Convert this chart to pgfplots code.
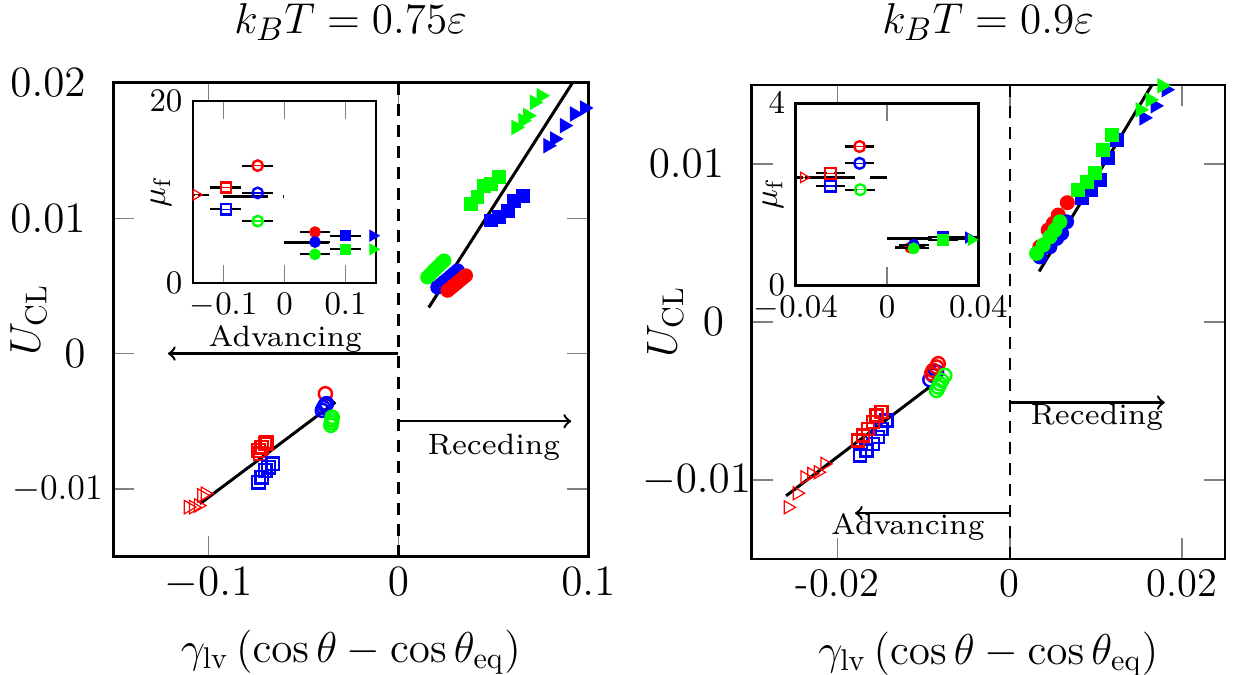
\documentclass[border=0pt]{standalone}
\usepackage{graphicx}
\usepackage{pgfplots}
\pgfplotsset{compat=1.18}
\definecolor{cred}{rgb}{1,0,0}
\definecolor{cblue}{rgb}{0,0,1}
\definecolor{cgreen}{rgb}{0,1,0}
\newcommand{\annot}[1]{\scalebox{1.4}{\fontsize{7}{8}\selectfont #1}}
\pgfplotsset{
  mainax/.style={scale only axis, axis line style={line width=0.9pt},
    tick style={gray, line width=0.4pt}, major tick length=7pt,
    tick label style={font=\fontsize{13.5}{16}\selectfont},
    label style={font=\fontsize{14.5}{17}\selectfont},
    scaled ticks=false, clip mode=individual,
    xlabel={$\gamma_{\mathrm{lv}}\left(\cos\theta-\cos\theta_{\mathrm{eq}}\right)$},
    ylabel={$U_{\mathrm{CL}}$},
    xlabel style={at={(axis description cs:0.5,0)}, anchor=center, yshift=-31.8pt}},
  insetax/.style={scale only axis, axis background/.style={fill=white},
    axis line style={line width=0.9pt},
    tick style={gray, line width=0.4pt}, major tick length=6pt,
    tick label style={font=\fontsize{10.5}{12}\selectfont},
    label style={font=\fontsize{11}{13}\selectfont},
    scaled ticks=false, clip mode=individual, ylabel={$\mu_{\mathrm{f}}$}},
  ao/.style={only marks, draw=#1, mark options={fill=white, line width=0.8pt}},
  rf/.style={only marks, draw=#1, fill=#1, mark options={line width=0.4pt}},
  fitline/.style={black, line width=1pt, no marks},
  zeroline/.style={black, line width=0.8pt, dash pattern=on 4pt off 3pt, no marks},
  mline/.style={black, line width=1pt, dash pattern=on 15pt off 5pt, no marks},
  ebx/.style={error bars/.cd, x dir=both, x explicit,
    error bar style={line width=0.5pt, double, double distance=1.6pt},
    error mark options={line width=0.7pt, mark size=1.9pt}},
}
\begin{document}
\begin{tikzpicture}
\useasboundingbox (0,0) rectangle (412.33pt,-224.67pt);
\node[font=\fontsize{15.5}{18}\selectfont] at (116.9pt,-7.3pt) {$k_BT=0.75\varepsilon$};
\node[font=\fontsize{15.5}{18}\selectfont] at (329.4pt,-7.3pt) {$k_BT=0.9\varepsilon$};

% ---------------- left main
\begin{axis}[mainax, at={(37.78pt,-27.57pt)}, anchor=north west,
  width=158.33pt, height=158pt,
  xmin=-0.15, xmax=0.1, ymin=-0.015, ymax=0.02,
  xtick={-0.1,0,0.1}, xticklabels={$-0.1$,$0$,$0.1$},
  ytick={-0.01,0,0.01,0.02},
  yticklabels={{\fontsize{12.2}{14}\selectfont$-0.01$\hspace*{-5.7pt}},{$0$},{$0.01$},{$0.02$}},
  yticklabel style={xshift=-5.7pt},
  ylabel style={at={(axis description cs:-0.179,0.5)}, anchor=center}]
\addplot[zeroline] coordinates {(0,-0.015) (0,0.02)};
\addplot[fitline] coordinates {(-0.1044,-0.01109) (-0.0331,-0.00359)};
\addplot[fitline] coordinates {(0.016,0.0034) (0.0917,0.02)};
% advancing
\addplot[ao=cred, mark=triangle, mark size=2.6pt, mark options={rotate=-90}] coordinates {
(-0.1106,-0.01134) (-0.1079,-0.01134) (-0.1053,-0.01122) (-0.1035,-0.01048) (-0.1017,-0.01035)};
\addplot[ao=cred, mark=square, mark size=2.1pt] coordinates {
(-0.0727,-0.0074) (-0.0736,-0.00716) (-0.0718,-0.00691) (-0.0701,-0.00667) (-0.0692,-0.00655)};
\addplot[ao=cblue, mark=square, mark size=2.1pt] coordinates {
(-0.0736,-0.0095) (-0.0718,-0.00913) (-0.0701,-0.00863) (-0.0683,-0.00839) (-0.066,-0.00814)};
\addplot[ao=cred, mark=o, mark size=2.2pt] coordinates {(-0.0384,-0.00297)};
\addplot[ao=cblue, mark=o, mark size=2.2pt] coordinates {
(-0.0400,-0.0042) (-0.0393,-0.0040) (-0.0385,-0.0038) (-0.0378,-0.0037)};
\addplot[ao=cgreen, mark=o, mark size=2.2pt] coordinates {
(-0.0348,-0.0047) (-0.0350,-0.0049) (-0.0352,-0.0051) (-0.0355,-0.0053)};
% receding
\addplot[rf=cgreen, mark=*, mark size=2.2pt] coordinates {
(0.0153,0.00563) (0.0168,0.00585) (0.0183,0.00608) (0.0198,0.00628) (0.0213,0.00648) (0.0227,0.00668) (0.0241,0.00686)};
\addplot[rf=cblue, mark=*, mark size=2.2pt] coordinates {
(0.0206,0.00489) (0.0224,0.0051) (0.0241,0.0053) (0.0259,0.0055) (0.0277,0.00572) (0.0294,0.00592) (0.0312,0.00613)};
\addplot[rf=cred, mark=*, mark size=2.2pt] coordinates {
(0.0259,0.00465) (0.0275,0.00483) (0.0291,0.00502) (0.0307,0.0052) (0.0323,0.00539) (0.0339,0.00557) (0.0355,0.00576)};
\addplot[rf=cgreen, mark=square*, mark size=2.1pt] coordinates {
(0.0382,0.01105) (0.0417,0.01154) (0.0452,0.0124) (0.0487,0.01252) (0.0531,0.01301)};
\addplot[rf=cblue, mark=square*, mark size=2.1pt] coordinates {
(0.0487,0.00982) (0.0531,0.01006) (0.0576,0.01055) (0.061,0.01129) (0.0655,0.01166)};
\addplot[rf=cgreen, mark=triangle*, mark size=2.6pt, mark options={rotate=-90}] coordinates {
(0.0619,0.0167) (0.0655,0.0172) (0.0681,0.01757) (0.0716,0.01855) (0.0751,0.01904)};
\addplot[rf=cblue, mark=triangle*, mark size=2.6pt, mark options={rotate=-90}] coordinates {
(0.0787,0.01535) (0.0822,0.01585) (0.0874,0.01683) (0.0927,0.01769) (0.098,0.01813)};
\draw[->, line width=0.8pt] (axis cs:0,0) -- (axis cs:-0.1213,0);
\node at (axis cs:-0.0595,0.0011) {\annot{Advancing}};
\draw[->, line width=0.8pt] (axis cs:0,-0.005) -- (axis cs:0.091,-0.005);
\node at (axis cs:0.0503,-0.00694) {\annot{Receding}};
\end{axis}

% ---------------- left inset
\begin{axis}[insetax, at={(64.33pt,-33.67pt)}, anchor=north west,
  width=61pt, height=60.67pt,
  xmin=-0.15, xmax=0.15, ymin=0, ymax=20,
  xtick={-0.1,0,0.1}, xticklabels={$-0.1$,$0$,$0.1$},
  ytick={0,20}, yticklabels={$0$,$20$},
  ylabel style={at={(axis description cs:-0.175,0.5)}, anchor=center}]
\addplot[mline] coordinates {(-0.1,9.5) (0,9.5)};
\addplot[mline] coordinates {(0,4.5) (0.075,4.5)};
\addplot[ao=cred, mark=triangle, mark size=2pt, mark options={rotate=-90}, ebx] coordinates {(-0.1445,9.7) +- (0.012,0)};
\addplot[ao=cred, mark=square, mark size=1.7pt, ebx] coordinates {(-0.096,10.5) +- (0.016,0)};
\addplot[ao=cblue, mark=square, mark size=1.7pt, ebx] coordinates {(-0.096,8.1) +- (0.016,0)};
\addplot[ao=cred, mark=o, mark size=1.75pt, ebx] coordinates {(-0.044,12.9) +- (0.016,0)};
\addplot[ao=cblue, mark=o, mark size=1.75pt, ebx] coordinates {(-0.044,9.9) +- (0.016,0)};
\addplot[ao=cgreen, mark=o, mark size=1.75pt, ebx] coordinates {(-0.044,6.8) +- (0.016,0)};
\addplot[rf=cred, mark=*, mark size=1.75pt, ebx] coordinates {(0.05,5.6) +- (0.016,0)};
\addplot[rf=cblue, mark=*, mark size=1.75pt, ebx] coordinates {(0.05,4.5) +- (0.016,0)};
\addplot[rf=cgreen, mark=*, mark size=1.75pt, ebx] coordinates {(0.05,3.15) +- (0.016,0)};
\addplot[rf=cblue, mark=square*, mark size=1.7pt, ebx] coordinates {(0.1,5.2) +- (0.016,0)};
\addplot[rf=cgreen, mark=square*, mark size=1.7pt, ebx] coordinates {(0.1,3.7) +- (0.016,0)};
\addplot[rf=cblue, mark=triangle*, mark size=2pt, mark options={rotate=-90}] coordinates {(0.145,5.2)};
\addplot[rf=cgreen, mark=triangle*, mark size=2pt, mark options={rotate=-90}] coordinates {(0.145,3.7)};
\end{axis}

% ---------------- right main
\begin{axis}[mainax, at={(250.57pt,-28.33pt)}, anchor=north west,
  width=157.78pt, height=158pt,
  xmin=-0.03, xmax=0.025, ymin=-0.015, ymax=0.015,
  xtick={-0.02,0,0.02}, xticklabels={-0.02,0,0.02},
  ytick={-0.01,0,0.01},
  yticklabels={{$-0.01$\hspace*{-9pt}},{$0$},{$0.01$}},
  yticklabel style={xshift=-5.7pt},
  ylabel style={at={(axis description cs:-0.183,0.5)}, anchor=center}]
\addplot[zeroline] coordinates {(0,-0.015) (0,0.015)};
\addplot[fitline] coordinates {(-0.026,-0.011) (-0.0093,-0.0041)};
\addplot[fitline] coordinates {(0.0034,0.0032) (0.0165,0.015)};
% advancing
\addplot[ao=cred, mark=triangle, mark size=2.5pt, mark options={rotate=-90}] coordinates {
(-0.02578,-0.01173) (-0.02473,-0.01084) (-0.02384,-0.00983) (-0.02306,-0.00961) (-0.02229,-0.00951) (-0.02151,-0.00898)};
\addplot[ao=cblue, mark=square, mark size=2pt] coordinates {
(-0.01744,-0.00845) (-0.01666,-0.00814) (-0.01589,-0.00771) (-0.01531,-0.00729) (-0.01492,-0.00676) (-0.01434,-0.00623)};
\addplot[ao=cred, mark=square, mark size=2pt] coordinates {
(-0.01764,-0.0075) (-0.01706,-0.00718) (-0.01648,-0.00676) (-0.0159,-0.00634) (-0.0155,-0.00592) (-0.01492,-0.00571)};
\addplot[ao=cblue, mark=o, mark size=2.2pt] coordinates {
(-0.0093,-0.00365) (-0.00891,-0.00338) (-0.00852,-0.00317)};
\addplot[ao=cred, mark=o, mark size=2.2pt] coordinates {
(-0.0091,-0.00327) (-0.00891,-0.00306) (-0.00852,-0.00285) (-0.00833,-0.00264)};
\addplot[ao=cgreen, mark=o, mark size=2.2pt] coordinates {
(-0.00852,-0.00433) (-0.00833,-0.00412) (-0.00814,-0.00391) (-0.00794,-0.0037) (-0.00756,-0.00338)};
% receding
\addplot[rf=cred, mark=*, mark size=2.3pt] coordinates {
(0.00349,0.00476) (0.00445,0.00582) (0.00504,0.00624) (0.00562,0.00677) (0.00667,0.00755)};
\addplot[rf=cblue, mark=*, mark size=2.3pt] coordinates {
(0.00349,0.00412) (0.00465,0.00476) (0.00543,0.00529) (0.00601,0.00561) (0.00659,0.00634)};
\addplot[rf=cgreen, mark=*, mark size=2.3pt] coordinates {
(0.0031,0.00434) (0.00387,0.00487) (0.00465,0.00539) (0.00523,0.00582) (0.00581,0.00634)};
\addplot[rf=cblue, mark=square*, mark size=2.2pt] coordinates {
(0.00837,0.00784) (0.00942,0.00835) (0.01047,0.00899) (0.0114,0.01038) (0.01244,0.01152)};
\addplot[rf=cgreen, mark=square*, mark size=2.2pt] coordinates {
(0.00791,0.00835) (0.00895,0.00886) (0.00988,0.00943) (0.0108,0.01089) (0.01186,0.01184)};
\addplot[rf=cblue, mark=triangle*, mark size=2.6pt, mark options={rotate=-90}] coordinates {
(0.01558,0.01292) (0.01686,0.01368) (0.01814,0.0147)};
\addplot[rf=cgreen, mark=triangle*, mark size=2.6pt, mark options={rotate=-90}] coordinates {
(0.01512,0.01343) (0.01628,0.01406) (0.01767,0.01495)};
\draw[->, line width=0.8pt] (axis cs:0,-0.0051) -- (axis cs:0.018,-0.0051);
\node at (axis cs:0.0101,-0.00604) {\annot{Receding}};
\draw[->, line width=0.8pt] (axis cs:0,-0.0121) -- (axis cs:-0.018,-0.0121);
\node at (axis cs:-0.01186,-0.01296) {\annot{Advancing}};
\end{axis}

% ---------------- right inset
\begin{axis}[insetax, at={(265.23pt,-34.43pt)}, anchor=north west,
  width=60.87pt, height=60.67pt,
  xmin=-0.04, xmax=0.04, ymin=0, ymax=4,
  xtick={-0.04,0,0.04}, xticklabels={$-0.04$,$0$,$0.04$},
  ytick={0,4}, yticklabels={$0$,$4$},
  ylabel style={at={(axis description cs:-0.124,0.5)}, anchor=center}]
\addplot[mline] coordinates {(-0.0336,2.37) (0,2.37)};
\addplot[mline] coordinates {(0,1.03) (0.04,1.03)};
\addplot[ao=cred, mark=triangle, mark size=2pt, mark options={rotate=-90}, ebx] coordinates {(-0.0365,2.37) +- (0.003,0)};
\addplot[ao=cred, mark=square, mark size=1.8pt, ebx] coordinates {(-0.0248,2.46) +- (0.004,0)};
\addplot[ao=cblue, mark=square, mark size=1.8pt, ebx] coordinates {(-0.0248,2.18) +- (0.004,0)};
\addplot[ao=cred, mark=o, mark size=1.8pt, ebx] coordinates {(-0.012,3.05) +- (0.004,0)};
\addplot[ao=cblue, mark=o, mark size=1.8pt, ebx] coordinates {(-0.012,2.68) +- (0.004,0)};
\addplot[ao=cgreen, mark=o, mark size=1.8pt, ebx] coordinates {(-0.0117,2.1) +- (0.004,0)};
\addplot[rf=cred, mark=*, mark size=1.8pt, ebx] coordinates {(0.0102,0.83) +- (0.004,0)};
\addplot[rf=cblue, mark=*, mark size=1.8pt, ebx] coordinates {(0.0117,0.89) +- (0.004,0)};
\addplot[rf=cgreen, mark=*, mark size=1.8pt, ebx] coordinates {(0.0117,0.81) +- (0.004,0)};
\addplot[rf=cblue, mark=square*, mark size=1.8pt, ebx] coordinates {(0.0245,1.07) +- (0.004,0)};
\addplot[rf=cgreen, mark=square*, mark size=1.8pt, ebx] coordinates {(0.0245,1.0) +- (0.004,0)};
\addplot[rf=cblue, mark=triangle*, mark size=2pt, mark options={rotate=-90}, ebx] coordinates {(0.0358,1.05) +- (0.003,0)};
\addplot[rf=cgreen, mark=triangle*, mark size=2pt, mark options={rotate=-90}] coordinates {(0.037,1.0)};
\end{axis}
\end{tikzpicture}
\end{document}
